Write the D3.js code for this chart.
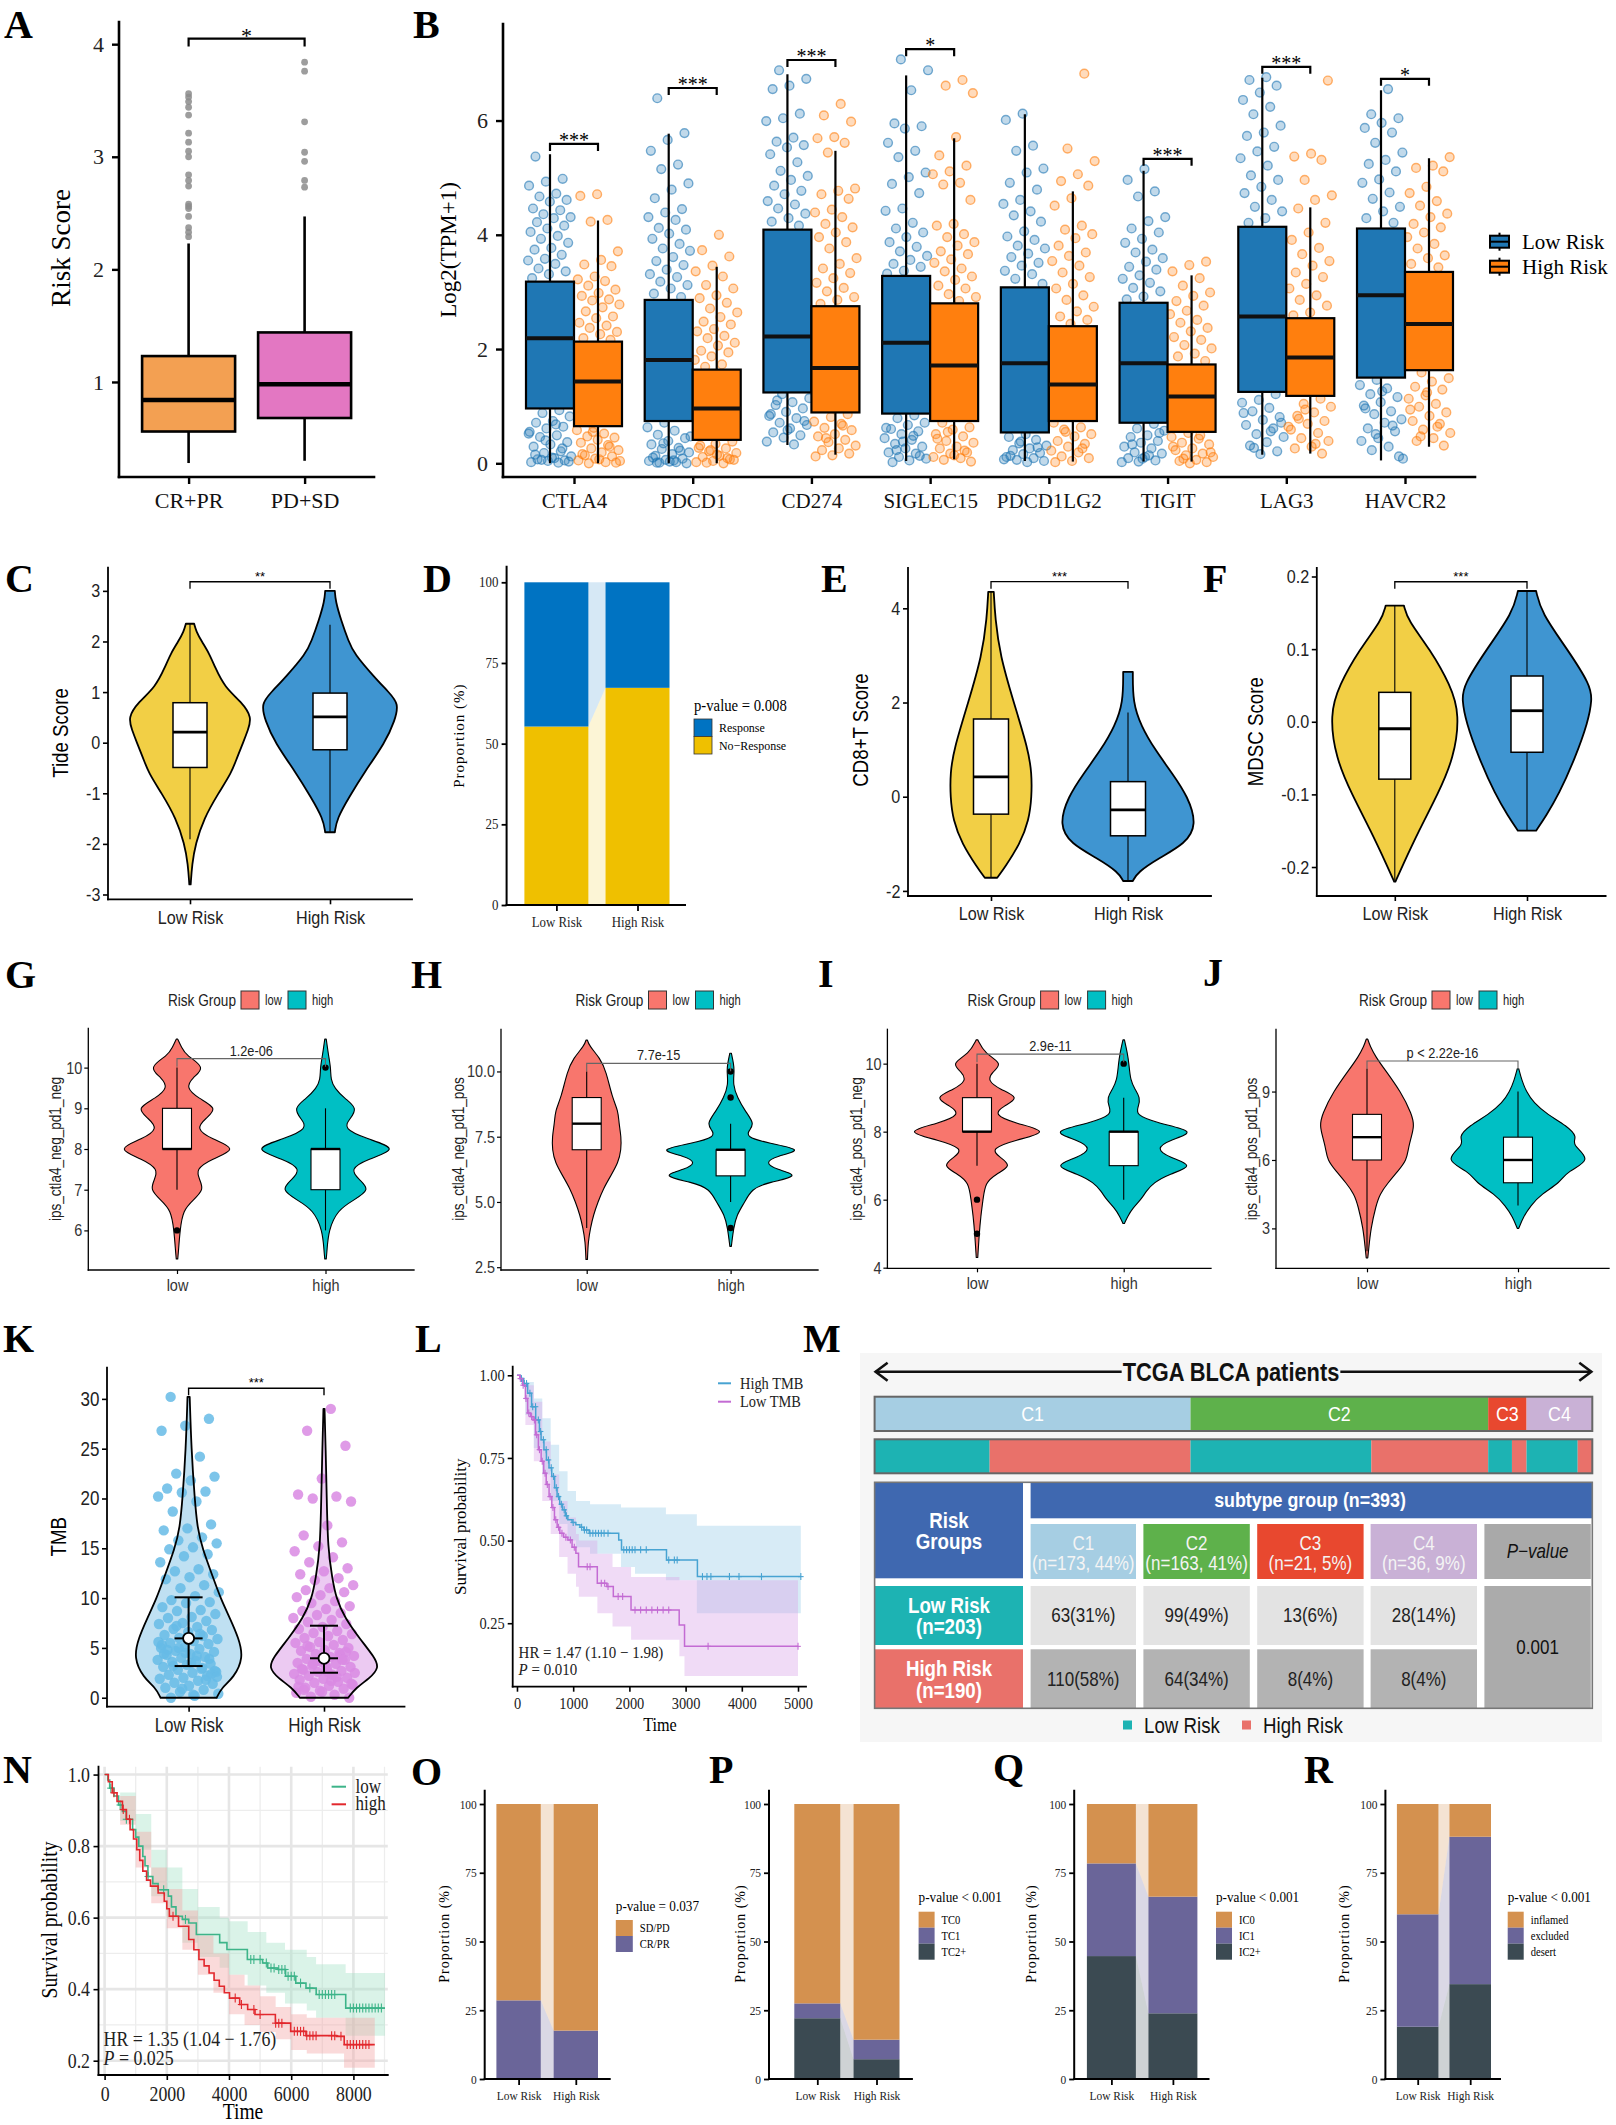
<!DOCTYPE html>
<html>
<head>
<meta charset="utf-8">
<script src="https://cdn.jsdelivr.net/npm/d3@7"></script>
<style>html,body{margin:0;padding:0;background:#fff;} svg{display:block;}</style>
</head>
<body>
<svg id="fig" width="1616" height="2125" xmlns="http://www.w3.org/2000/svg"></svg>
<script>
// ======================= DATA =======================
const riskGroups = ["Low Risk", "High Risk"];

// ---- A ----
const aGroups = ["CR+PR", "PD+SD"];
const aStats = [[0.28, 0.56, 0.84, 1.23, 2.23], [0.30, 0.68, 0.98, 1.44, 2.47]]; // min,q1,med,q3,max
const aOutliers = [[3.56,3.53,3.49,3.44,3.37,3.21,3.13,3.05,3.00,2.84,2.79,2.74,2.58,2.56,2.54,2.47,2.37,2.33,2.29],
                   [3.84,3.76,3.31,3.04,2.96,2.79,2.73]];
const aSig = "*";
const aTicks = [1, 2, 3, 4];

// ---- B ----
const bGenes = ["CTLA4","PDCD1","CD274","SIGLEC15","PDCD1LG2","TIGIT","LAG3","HAVCR2"];
const bLowStats = [[0,0.96,2.19,3.18,5.41],[0,0.74,1.81,2.86,5.77],[0.32,1.24,2.22,4.09,6.81],[0.04,0.87,2.11,3.28,6.79],
                   [0.04,0.54,1.75,3.08,6.11],[0.03,0.71,1.75,2.81,5.12],[0.15,1.25,2.57,4.14,6.75],[0.05,1.50,2.94,4.11,6.53]];
const bHighStats = [[0,0.65,1.43,2.13,4.25],[0,0.41,0.96,1.64,3.44],[0.15,0.89,1.67,2.75,5.47],[0.07,0.74,1.71,2.80,5.69],
                    [0.03,0.74,1.38,2.40,4.76],[0.03,0.55,1.17,1.73,3.29],[0.17,1.18,1.85,2.54,4.48],[0.29,1.63,2.44,3.35,5.34]];
const bSig = ["***","***","***","*","","***","***","*"];
const bTicks = [0, 2, 4, 6];
const bLowPts = [
 [5.37,4.98,4.93,4.86,4.72,4.67,4.61,4.58,4.46,4.43,4.36,4.31,4.29,4.22,4.16,4.11,4.05,3.98,3.93,3.86,3.77,3.74,3.65,3.58,3.55,3.49,3.41,3.36,3.31,3.24,0.93,0.88,0.82,0.74,0.71,0.64,0.61,0.55,0.49,0.46,0.37,0.33,0.29,0.21,0.18,0.12,0.09,0.07,0.05,0.04,0.02,0.01,0.06,0.03,0.1,0.15,0.26,0.4,0.52,0.68],
 [6.39,5.78,5.66,5.47,5.23,5.15,4.9,4.79,4.64,4.45,4.39,4.31,4.26,4.12,4.09,4.02,3.93,3.84,3.76,3.72,3.61,3.54,3.47,3.39,3.31,3.26,3.18,3.12,3.06,2.97,2.91,0.71,0.63,0.57,0.5,0.44,0.39,0.33,0.27,0.25,0.19,0.16,0.13,0.08,0.06,0.04,0.02,0.01,0.0,0.03,0.1,0.22,0.35,0.47,0.05,0.01],
 [6.88,6.73,6.61,6.55,6.12,6.04,5.99,5.7,5.63,5.57,5.53,5.41,5.27,5.12,5.03,4.96,4.86,4.77,4.71,4.59,4.53,4.46,4.37,4.29,4.23,4.16,1.21,1.14,1.07,1.02,0.96,0.9,0.83,0.79,0.71,0.67,0.61,0.54,0.49,0.45,0.38,0.33,1.1,0.74,0.58,0.86],
 [7.07,6.88,6.53,5.95,5.9,5.86,5.61,5.47,5.36,5.09,5.01,4.89,4.73,4.46,4.42,4.21,4.11,4.04,3.96,3.87,3.79,3.71,3.63,3.56,3.49,3.44,3.37,3.32,0.84,0.79,0.71,0.67,0.6,0.56,0.51,0.44,0.41,0.34,0.29,0.26,0.19,0.17,0.11,0.08,0.05,0.02,0.13,0.38,0.62,0.48,0.23],
 [6.12,6.01,5.56,5.47,5.16,5.09,4.91,4.79,4.61,4.54,4.41,4.34,4.23,4.06,3.97,3.91,3.81,3.76,3.67,3.61,3.51,3.46,3.37,3.31,3.23,3.14,0.51,0.46,0.41,0.35,0.31,0.26,0.23,0.18,0.16,0.11,0.09,0.06,0.04,0.02,0.13,0.28,0.38,0.07],
 [5.15,4.96,4.76,4.67,4.31,4.24,4.11,4.04,3.93,3.86,3.74,3.69,3.59,3.53,3.44,3.39,3.29,3.23,3.16,3.07,3.01,2.92,2.87,0.69,0.61,0.57,0.49,0.46,0.39,0.36,0.29,0.26,0.19,0.17,0.11,0.09,0.05,0.03,0.02,0.14,0.33,0.53,0.08],
 [6.76,6.71,6.61,6.49,6.36,6.24,6.11,5.91,5.79,5.73,5.54,5.46,5.34,5.21,5.04,4.96,4.84,4.73,4.61,4.49,4.41,4.29,4.21,1.21,1.11,1.06,0.97,0.91,0.81,0.76,0.67,0.61,0.51,0.46,0.37,0.31,0.21,0.16,0.88,0.56,0.27,0.71],
 [6.55,6.11,6.04,5.96,5.87,5.79,5.61,5.44,5.31,5.24,5.11,4.97,4.91,4.74,4.63,4.49,4.41,4.29,4.21,1.46,1.37,1.31,1.21,1.16,1.07,1.01,0.91,0.86,0.77,0.71,0.61,0.56,0.44,0.39,0.29,0.23,0.12,1.26,0.96,0.66,0.51,0.08]
];
const bHighPts = [
 [4.71,4.68,4.26,4.23,3.71,3.56,3.48,3.45,3.27,3.22,3.19,3.11,3.04,2.98,2.93,2.87,2.85,2.78,2.73,2.66,2.57,2.54,2.46,2.41,2.37,2.3,2.26,2.19,2.16,0.62,0.58,0.52,0.47,0.45,0.41,0.36,0.32,0.26,0.23,0.19,0.14,0.12,0.08,0.05,0.02,0.0,0.01,0.07,0.16,0.29,0.55,0.04],
 [4.0,3.73,3.62,3.46,3.36,3.27,3.12,3.06,2.94,2.89,2.81,2.71,2.64,2.56,2.48,2.43,2.35,2.31,2.23,2.19,2.11,2.06,1.97,1.94,1.87,1.81,1.73,1.69,0.38,0.34,0.27,0.26,0.21,0.18,0.13,0.11,0.07,0.04,0.02,0.0,0.01,0.06,0.15,0.31,0.09,0.23],
 [6.29,6.09,5.98,5.71,5.69,5.61,5.44,4.81,4.77,4.71,4.63,4.44,4.39,4.31,4.19,4.13,4.04,3.96,3.87,3.76,3.59,3.49,3.41,3.33,3.24,3.16,3.07,3.01,2.91,2.86,2.79,0.86,0.81,0.73,0.69,0.62,0.58,0.51,0.47,0.41,0.37,0.31,0.26,0.23,0.17,0.14,0.12,0.66,0.44],
 [6.71,6.61,6.48,5.71,5.39,5.21,5.11,5.06,4.91,4.88,4.61,4.19,4.16,4.01,3.96,3.87,3.81,3.71,3.66,3.57,3.51,3.41,3.36,3.27,3.21,3.11,3.06,2.96,2.91,2.84,0.71,0.63,0.59,0.51,0.47,0.39,0.36,0.29,0.26,0.19,0.17,0.11,0.09,0.06,0.03,0.14,0.43,0.22,0.55],
 [6.82,5.51,5.29,5.06,4.94,4.86,4.64,4.51,4.16,4.09,4.01,3.94,3.81,3.69,3.63,3.54,3.46,3.34,3.26,3.14,3.06,2.94,2.86,2.74,2.66,2.57,2.51,2.44,0.71,0.63,0.59,0.51,0.47,0.39,0.34,0.29,0.22,0.19,0.12,0.09,0.04,0.02,0.26,0.55],
 [3.53,3.47,3.36,3.24,3.11,2.99,2.93,2.84,2.76,2.67,2.61,2.51,2.46,2.37,2.31,2.21,2.16,2.07,2.01,1.92,1.87,1.79,0.53,0.46,0.43,0.36,0.33,0.26,0.23,0.17,0.14,0.11,0.06,0.04,0.02,0.0,0.29,0.49,0.08,0.19],
 [6.7,5.42,5.37,5.31,4.96,4.69,4.61,4.46,4.21,4.04,3.91,3.77,3.66,3.54,3.46,3.34,3.26,3.14,3.06,2.94,2.86,2.76,2.64,2.59,1.13,1.04,0.99,0.89,0.83,0.74,0.69,0.59,0.53,0.44,0.39,0.29,0.26,0.17,0.94,0.64,0.34,0.78],
 [5.36,5.21,5.17,5.11,4.84,4.73,4.59,4.51,4.37,4.31,4.19,4.13,4.04,3.96,3.84,3.76,3.64,3.59,3.49,3.43,1.59,1.49,1.43,1.34,1.29,1.19,1.13,1.04,0.99,0.89,0.83,0.74,0.69,0.59,0.53,0.44,0.39,0.31,1.24,0.94,0.64,0.47]
];

// ---- C / E / F (violins: [value, relative half-width]) ----
const cLowProfile = [[2.35,.06],[2.2,.09],[2.0,.17],[1.76,.28],[1.5,.36],[1.1,.5],[0.8,.75],[0.5,.9],[0.25,.84],[0,.77],[-0.3,.68],[-0.6,.6],[-1.0,.41],[-1.5,.2],[-2.0,.08],[-2.4,.03],[-2.8,.01]];
const cHighProfile = [[3.0,.07],[2.8,.08],[2.42,.16],[2.0,.27],[1.76,.35],[1.3,.64],[1.0,.85],[0.77,1.0],[0.44,.94],[0,.8],[-0.6,.49],[-1.07,.28],[-1.5,.1],[-1.77,.07]];
const cStats = [[-1.91,-0.49,0.21,0.79,2.35],[-1.76,-0.14,0.51,0.98,2.33]];
const cTicks = [-3,-2,-1,0,1,2,3];
const cSig = {label: "**", at: 3.18};
const eLowProfile = [[4.35,.04],[3.8,.06],[3,.13],[2,.33],[1,.54],[0.5,.59],[0,.59],[-0.5,.55],[-1,.42],[-1.5,.2],[-1.72,.09]];
const eHighProfile = [[2.65,.07],[2,.07],[1.5,.19],[1,.39],[0.5,.64],[0,.87],[-0.6,1.0],[-1,.83],[-1.3,.45],[-1.6,.14],[-1.79,.07]];
const eStats = [[-1.72,-0.37,0.42,1.65,4.35],[-1.79,-0.83,-0.28,0.32,1.79]];
const eTicks = [-2,0,2,4];
const eSig = {label: "***", at: 4.565};
const fLowProfile = [[0.16,.14],[0.14,.2],[0.1,.54],[0.05,.86],[0.01,1.0],[-0.05,.91],[-0.1,.66],[-0.15,.37],[-0.2,.11],[-0.22,.01]];
const fHighProfile = [[0.18,.14],[0.15,.22],[0.1,.62],[0.05,.98],[0.03,1.0],[0,.94],[-0.05,.74],[-0.1,.49],[-0.13,.29],[-0.15,.14]];
const fStats = [[-0.219,-0.079,-0.0096,0.0405,0.16],[-0.15,-0.042,0.0152,0.063,0.18]];
const fTicks = [-0.2,-0.1,0,0.1,0.2];
const fSig = {label: "***", at: 0.1928};

// ---- D, O, P, Q, R (percent, stacked bottom -> top) ----
const dLegend = ["Response", "No\u2212Response"];
const dLow = [55.3, 44.7];
const dHigh = [67.3, 32.7];
const dPval = "p-value = 0.008";
const oLegend = ["SD/PD", "CR/PR"];
const oLow = [28.6, 71.4];
const oHigh = [17.6, 82.4];
const oPval = "p-value = 0.037";
const pLegend = ["TC0", "TC1", "TC2+"];
const pLow = [22.1, 5.4, 72.5];
const pHigh = [7.2, 7.1, 85.7];
const qLegend = ["IC0", "IC1", "IC2+"];
const qLow = [44.7, 33.7, 21.6];
const qHigh = [23.9, 42.4, 33.7];
const rLegend = ["inflamed", "excluded", "desert"];
const rLow = [19.0, 40.9, 40.1];
const rHigh = [34.5, 53.6, 11.9];
const pqrPval = "p-value < 0.001";
const propTicks = [0, 25, 50, 75, 100];

// ---- G, H, I, J ----
const ipsGroups = ["low", "high"];
const gLowProfile = [[10.7,.01],[10.5,.06],[10.3,.12],[10.0,.39],[9.75,.2],[9.5,.12],[9.25,.28],[9.0,.55],[8.75,.38],[8.5,.25],[8.25,.45],[8.0,.83],[7.75,.45],[7.5,.25],[7.25,.3],[7.0,.36],[6.75,.22],[6.5,.08],[6.0,.04],[5.5,.02],[5.3,.01]];
const gHighProfile = [[10.7,.01],[10.3,.04],[10.0,.07],[9.7,.07],[9.5,.12],[9.25,.25],[9.0,.43],[8.75,.33],[8.5,.23],[8.25,.55],[8.0,1.0],[7.75,.55],[7.5,.32],[7.25,.45],[7.0,.6],[6.75,.38],[6.5,.16],[6.0,.04],[5.5,.02],[5.3,.01]];
const gStats = [[7,8,8,9,10],[6,7,8,8,9]];
const gOutliers = [[6],[10]];
const hLowProfile = [[11.2,.01],[11,.03],[10.5,.18],[10,.26],[9,.34],[8.5,.42],[8,.43],[7.5,.46],[7,.46],[6.5,.42],[6,.32],[5.5,.22],[5,.15],[4.5,.09],[4,.05],[3.5,.02],[2.8,.01]];
const hHighProfile = [[10.7,.01],[10.3,.04],[10,.05],[9.5,.03],[9,.09],[8.5,.19],[8,.32],[7.75,.25],[7.5,.2],[7.25,.5],[7,1.0],[6.75,.6],[6.5,.46],[6.25,.6],[6,.95],[5.75,.5],[5.5,.28],[5,.19],[4.5,.08],[4,.04],[3.3,.01]];
const hStats = [[4,7,8,9,10],[5,6,7,7,8]];
const hOutliers = [[],[10,9,4]];
const iLowProfile = [[10.7,.01],[10.3,.1],[10,.35],[9.75,.2],[9.5,.14],[9.25,.3],[9,.58],[8.75,.35],[8.5,.22],[8.25,.5],[8,1.0],[7.75,.5],[7.5,.18],[7.25,.3],[7,.47],[6.75,.25],[6.5,.11],[6,.08],[5.5,.05],[5,.03],[4.3,.01]];
const iHighProfile = [[10.7,.01],[10.3,.05],[10,.07],[9.5,.09],[9.25,.15],[9,.22],[8.75,.2],[8.5,.15],[8.25,.45],[8,1.0],[7.75,.6],[7.5,.43],[7.25,.6],[7,.96],[6.75,.6],[6.5,.4],[6.25,.3],[6,.23],[5.75,.12],[5.5,.05],[5.3,.01]];
const iStats = [[7,8,8,9,10],[6,7,8,8,9]];
const iOutliers = [[6,5],[10]];
const jLowProfile = [[11.3,.01],[11,.04],[10.5,.12],[10,.23],[9,.45],[8,.6],[7.5,.63],[7,.59],[6.5,.55],[6,.53],[5.5,.41],[5,.28],[4.5,.17],[4,.12],[3,.05],[2,.02],[1.7,.01]];
const jHighProfile = [[10,.01],[9.5,.05],[9,.11],[8.5,.21],[8,.39],[7.5,.65],[7,.8],[6.7,.7],[6,1.0],[5.5,.65],[5,.56],[4.5,.31],[4,.17],[3.5,.07],[3,.01]];
const jStats = [[2,6,7,8,10],[4,5,6,7,9]];
const jOutliers = [[],[]];
const ipsPvals = ["1.2e-06", "7.7e-15", "2.9e-11", "p < 2.22e-16"];
const ipsBracketAt = [10.22, 10.31, 10.28, 10.34];
const ipsYLabels = ["ips_ctla4_neg_pd1_neg", "ips_ctla4_neg_pd1_pos", "ips_ctla4_pos_pd1_neg", "ips_ctla4_pos_pd1_pos"];

// ---- K ----
const kLowProfile = [[30.2,.02],[25,.05],[20,.11],[17,.16],[15,.25],[12,.45],[10,.58],[8,.75],[6,.91],[4,1.0],[2,.82],[1,.6],[0,.51]];
const kHighProfile = [[29,.01],[25,.03],[20,.05],[15,.07],[12,.15],[10,.22],[8,.38],[6,.64],[4,.93],[3,1.0],[2,.84],[1,.58],[0,.44]];
const kStats = [[5.96,3.18,10.08],[3.96,2.51,7.23]]; // centre, lower, upper
const kTicks = [0,5,10,15,20,25,30];
const kLowPts = [30.2,28.0,27.3,26.8,24.2,22.5,22.2,21.8,21.0,20.7,20.6,20.2,19.7,18.7,17.4,17.0,16.8,16.1,15.8,15.5,15.1,14.9,14.4,14.2,13.6,12.9,12.7,12.4,12.1,11.9,11.3,11.0,10.6,10.2,9.8,9.6,9.5,9.1,8.8,8.7,8.4,8.1,8.0,7.7,7.5,7.4,7.1,6.9,6.8,6.6,6.3,6.2,6.0,5.9,5.7,5.5,5.4,5.1,5.0,4.9,4.7,4.6,4.4,4.3,4.1,4.0,3.8,3.7,3.6,3.4,3.3,3.1,2.9,2.8,2.6,2.5,2.3,2.2,2.0,1.9,1.7,1.5,1.4,1.2,1.0,0.8,0.6,0.4,0.2,0.0,3.9,4.5,5.3,6.4,7.2,2.7,3.5,4.8,1.8,0.9,5.6,4.2,3.2,2.4,6.1,4.4,3.0,5.0,2.1,0.3];
const kHighPts = [29.0,26.8,25.3,22.0,20.4,20.2,20.0,19.7,17.3,16.3,15.6,15.2,14.7,14.1,13.6,13.0,12.7,12.4,12.0,11.8,11.3,11.0,10.8,10.6,10.3,10.1,9.7,9.5,9.2,8.9,8.7,8.5,8.3,8.0,7.8,7.6,7.4,7.1,6.9,6.7,6.5,6.4,6.2,6.0,5.8,5.6,5.5,5.3,5.1,5.0,4.8,4.7,4.5,4.4,4.2,4.1,3.9,3.8,3.6,3.5,3.4,3.2,3.1,3.0,2.8,2.7,2.6,2.4,2.3,2.2,2.0,1.9,1.8,1.6,1.5,1.3,1.2,1.0,0.9,0.7,0.5,0.3,0.1,0.0,3.3,2.9,4.3,3.7,2.5,1.7,5.2,4.6,0.6,1.1,2.1,3.4,1.4,2.6,0.8,3.8];

// ---- L (Kaplan-Meier: [time, survival]; bands: [time, lower, upper]) ----
const lSeries = ["High TMB", "Low TMB"];
const lHighCurve = [[0,1],[60,0.99],[120,0.975],[190,0.946],[260,0.905],[333,0.865],[400,0.83],[429,0.805],[480,0.775],[524,0.744],[570,0.72],[619,0.694],[670,0.66],[714,0.633],[760,0.61],[810,0.593],[860,0.575],[905,0.563],[980,0.555],[1048,0.548],[1120,0.54],[1190,0.532],[1286,0.522],[1810,0.502],[1860,0.472],[2660,0.441],[3210,0.391],[5050,0.391]];
const lLowCurve = [[0,1],[50,0.99],[100,0.97],[150,0.93],[190,0.886],[240,0.875],[286,0.865],[330,0.82],[381,0.775],[430,0.74],[476,0.704],[520,0.67],[571,0.633],[620,0.6],[667,0.563],[715,0.54],[762,0.522],[830,0.51],[905,0.502],[980,0.48],[1048,0.462],[1095,0.421],[1429,0.371],[1600,0.361],[1714,0.331],[2029,0.29],[2886,0.245],[2981,0.18],[5000,0.18]];
const lHighBand = [[0,1,1],[150,0.88,0.98],[300,0.78,0.93],[450,0.7,0.87],[600,0.62,0.79],[750,0.55,0.71],[900,0.5,0.65],[1050,0.48,0.62],[1300,0.46,0.61],[1850,0.42,0.6],[2100,0.4,0.6],[2650,0.38,0.58],[3200,0.28,0.545],[5050,0.28,0.545]];
const lLowBand = [[0,1,1],[150,0.85,0.97],[300,0.74,0.92],[450,0.62,0.8],[600,0.52,0.7],[750,0.45,0.62],[900,0.4,0.57],[1050,0.36,0.52],[1100,0.33,0.5],[1430,0.28,0.46],[1700,0.24,0.42],[2030,0.2,0.39],[2890,0.15,0.38],[2980,0.09,0.38],[5000,0.09,0.38]];
const lHighCensor = [80,130,170,230,280,330,380,420,470,520,560,610,650,700,740,790,840,880,1000,1150,1200,1240,1300,1350,1400,1450,1500,1550,1620,1900,1950,2000,2050,2100,2200,2300,2700,2800,2850,3300,3380,3450,3780,3950,4350,5050];
const lLowCensor = [60,110,160,210,260,310,350,400,450,500,540,590,640,690,740,800,870,950,1020,1250,1300,1500,1560,1620,1800,1880,2100,2200,2300,2400,2500,2600,2700,3400,5000];
const lHR = "HR = 1.47 (1.10 \u2212 1.98)";
const lP = "0.010";
const lYTicks = [0.25, 0.5, 0.75, 1.0];
const lXTicks = [0,1000,2000,3000,4000,5000];

// ---- M ----
const mTitle = "TCGA BLCA patients";
const mSubtypes = ["C1","C2","C3","C4"];
const mSubtypeN = [173, 163, 21, 36];
const mSubtypePct = [44, 41, 5, 9];
const mLowN = [63, 99, 13, 28];
const mLowPct = [31, 49, 6, 14];
const mHighN = [110, 64, 8, 8];
const mHighPct = [58, 34, 4, 4];
const mRiskTotals = [203, 190];
const mPvalue = "0.001";

// ---- N ----
const nSeries = ["low", "high"];
const nLowCurve = [[0,1],[100,0.985],[164,0.962],[300,0.94],[450,0.915],[574,0.897],[700,0.875],[901,0.846],[1000,0.825],[1100,0.8],[1229,0.771],[1300,0.745],[1393,0.715],[1550,0.695],[1721,0.678],[2049,0.66],[2150,0.63],[2295,0.604],[2500,0.595],[2705,0.585],[2950,0.553],[3700,0.53],[3934,0.511],[4590,0.483],[5081,0.473],[5245,0.459],[5573,0.455],[5819,0.436],[6147,0.417],[6475,0.403],[6803,0.385],[7753,0.347],[9015,0.347]];
const nHighCurve = [[0,1],[120,0.98],[246,0.949],[400,0.925],[574,0.902],[700,0.875],[820,0.846],[930,0.82],[1033,0.79],[1130,0.76],[1229,0.73],[1350,0.705],[1475,0.688],[1721,0.669],[1918,0.646],[2000,0.625],[2082,0.604],[2377,0.576],[2705,0.539],[2870,0.51],[3033,0.483],[3200,0.465],[3360,0.445],[3520,0.425],[3688,0.408],[3850,0.39],[4016,0.375],[4344,0.357],[4600,0.343],[4836,0.329],[5491,0.305],[5983,0.282],[6475,0.27],[7458,0.268],[7704,0.245],[8687,0.245]];
const nLowBand = [[0,1,1],[500,0.87,0.95],[1000,0.79,0.89],[1500,0.66,0.79],[2000,0.6,0.74],[2500,0.53,0.68],[3000,0.49,0.63],[3700,0.46,0.6],[4000,0.44,0.59],[4600,0.41,0.56],[5200,0.39,0.53],[5800,0.36,0.51],[6500,0.34,0.49],[6800,0.32,0.47],[7750,0.27,0.445],[9015,0.27,0.445]];
const nHighBand = [[0,1,1],[500,0.86,0.94],[1000,0.74,0.84],[1500,0.64,0.74],[2000,0.57,0.68],[2500,0.51,0.62],[3000,0.44,0.55],[3500,0.39,0.5],[4000,0.33,0.44],[4500,0.3,0.41],[5000,0.28,0.38],[5500,0.26,0.35],[6000,0.23,0.33],[6500,0.22,0.32],[7700,0.18,0.32],[8687,0.18,0.32]];
const nLowCensor = [200,500,700,1400,1900,2600,4700,4800,5000,5200,5350,5450,5600,5700,5800,5900,6000,6100,6300,6600,6900,7000,7100,7200,7300,7400,7900,8000,8100,8200,8300,8400,8500,8600,8700,8800,8900];
const nHighCensor = [300,600,800,2200,4200,4400,4800,5000,5500,5600,5700,6100,6200,6300,6400,6500,6600,6700,6800,7300,7400,7600,7800,7900,8000,8100,8200,8300,8400,8500];
const nHR = "HR = 1.35 (1.04 \u2212 1.76)";
const nP = "0.025";
const nYTicks = [0.2,0.4,0.6,0.8,1.0];
const nXTicks = [0,2000,4000,6000,8000];

// ======================= DRAWING =======================
const SERIF = "'Liberation Serif','Times New Roman',Times,serif";
const SANS = "'Liberation Sans',Arial,sans-serif";
const NX = 0.85; // horizontal condensing of narrow type
const svg = d3.select('#fig');
svg.append('rect').attr('width', 1616).attr('height', 2125).attr('fill', '#fff');

function T(g, x, y, s, o = {}) {
  const t = g.append('text').attr('x', x).attr('y', y).text(s)
    .attr('font-family', o.ff || SERIF).attr('font-size', o.fs || 16)
    .attr('fill', o.fill || '#000').attr('text-anchor', o.a || 'start');
  if (o.fw) t.attr('font-weight', o.fw);
  if (o.it) t.attr('font-style', 'italic');
  if (o.dy) t.attr('dy', o.dy);
  if (o.ls) t.attr('letter-spacing', o.ls);
  if (o.rot || o.sx) t.attr('transform', `translate(${x},${y}) rotate(${o.rot || 0}) scale(${o.sx || 1},1) translate(${-x},${-y})`);
  return t;
}
function L(g, x1, y1, x2, y2, col = '#000', w = 1, cap = 'butt') {
  return g.append('line').attr('x1', x1).attr('y1', y1).attr('x2', x2).attr('y2', y2)
    .attr('stroke', col).attr('stroke-width', w).attr('stroke-linecap', cap);
}
function frame(g, xl, xr, yt, yb, w) {
  L(g, xl, yt, xl, yb, '#000', w, 'square');
  L(g, xl, yb, xr, yb, '#000', w, 'square');
}
function styleAxis(a, o) {
  a.select('.domain').remove();
  a.selectAll('.tick line').attr('stroke', '#000').attr('stroke-width', o.lw || 1.5);
  const tx = a.selectAll('.tick text').attr('font-family', o.ff).attr('font-size', o.fs).attr('fill', o.tc || '#222');
  if (o.sx) tx.attr('transform', `scale(${o.sx},1)`);
}
function axisL(g, scale, x, o) {
  const a = g.append('g').attr('transform', `translate(${x},0)`)
    .call(d3.axisLeft(scale).tickValues(o.ticks).tickSize(o.ts || 5).tickPadding(o.tp || 4).tickFormat(o.fmt || (d => String(d))));
  styleAxis(a, o);
  return a;
}
function axisB(g, scale, y, o) {
  const ax = d3.axisBottom(scale).tickSize(o.ts || 5).tickPadding(o.tp || 4).tickFormat(o.fmt || (d => String(d)));
  if (o.ticks) ax.tickValues(o.ticks);
  const a = g.append('g').attr('transform', `translate(0,${y})`).call(ax);
  styleAxis(a, o);
  return a;
}
function spread(i, s) { return ((i * 0.6180339887 + (s || 0)) % 1) - 0.5; }
function panelLabel(s, x, y) { T(svg, x, y, s, { ff: SERIF, fs: 40, fw: 'bold' }); }
function violinPath(g, prof, cx, y, wmax, fill, sw, fo) {
  const a = d3.area().curve(d3.curveBasis).y(d => y(d[0])).x0(d => cx - d[1] * wmax).x1(d => cx + d[1] * wmax);
  return g.append('path').attr('d', a(prof)).attr('fill', fill).attr('fill-opacity', fo == null ? 1 : fo)
    .attr('stroke', sw ? '#000' : 'none').attr('stroke-width', sw || 0).attr('stroke-linejoin', 'round');
}
function wbox(g, cx, y, s, bw, o) {
  L(g, cx, y(s[0]), cx, y(s[1]), '#000', o.ww);
  L(g, cx, y(s[3]), cx, y(s[4]), '#000', o.ww);
  g.append('rect').attr('x', cx - bw / 2).attr('y', y(s[3])).attr('width', bw).attr('height', y(s[1]) - y(s[3]))
    .attr('fill', o.fill || '#fff').attr('stroke', '#000').attr('stroke-width', o.bw);
  L(g, cx - bw / 2, y(s[2]), cx + bw / 2, y(s[2]), '#000', o.mw);
}

// ---------- Panel labels ----------
[["A",4,38],["B",413,38],["C",5,592],["D",423,592],["E",821,592],["F",1203,592],
 ["G",5,988],["H",411,988],["I",818,987],["J",1203,986],["K",3,1352],["L",415,1352],["M",803,1352],
 ["N",3,1783],["O",411,1785],["P",709,1783],["Q",993,1781],["R",1304,1783]].forEach(d => panelLabel(d[0], d[1], d[2]));

// ---------- Panel A ----------
{
  const g = svg.append('g');
  const y = d3.scaleLinear().domain([0.156, 4.197]).range([477, 22]);
  const x = d3.scalePoint().domain(aGroups).range([188.6, 304.6]);
  const cols = ['#F3A052', '#E377C2'];
  const bw = 93;
  aGroups.forEach((k, i) => {
    const s = aStats[i], cx = x(k);
    L(g, cx, y(s[0]), cx, y(s[1]), '#000', 2.6);
    L(g, cx, y(s[3]), cx, y(s[4]), '#000', 2.6);
    g.append('rect').attr('x', cx - bw / 2).attr('y', y(s[3])).attr('width', bw).attr('height', y(s[1]) - y(s[3]))
      .attr('fill', cols[i]).attr('stroke', '#000').attr('stroke-width', 2.6);
    L(g, cx - bw / 2, y(s[2]), cx + bw / 2, y(s[2]), '#000', 4.5);
    aOutliers[i].forEach(v => g.append('circle').attr('cx', cx).attr('cy', y(v)).attr('r', 3.4).attr('fill', '#8c8c8c').attr('fill-opacity', 0.85));
  });
  frame(g, 119, 374, 22, 477, 2.6);
  axisL(g, y, 119, { ticks: aTicks, ts: 7, tp: 8, lw: 2.4, ff: SERIF, fs: 22, tc: '#222' });
  axisB(g, x, 477, { ts: 7, tp: 8, lw: 2.4, ff: SERIF, fs: 22, tc: '#111' });
  const by = y(4.05);
  g.append('path').attr('d', `M${x(aGroups[0])},${by + 8}V${by}H${x(aGroups[1])}V${by + 8}`).attr('fill', 'none').attr('stroke', '#000').attr('stroke-width', 2.2);
  T(g, (x(aGroups[0]) + x(aGroups[1])) / 2, by + 4, aSig, { ff: SERIF, fs: 22, a: 'middle' });
  T(g, 61, 248, "Risk Score", { ff: SERIF, fs: 27, a: 'middle', rot: -90, dy: '0.35em' });
}

// ---------- Panel B ----------
{
  const g = svg.append('g');
  const y = d3.scaleLinear().domain([-0.24, 7.69]).range([477, 24]);
  const x = d3.scalePoint().domain(bGenes).range([574, 1405]);
  const cols = ['#1F77B4', '#FF7F0E'];
  const bw = 48, jw = 22;
  [bLowPts, bHighPts].forEach((P, gi) => {
    bGenes.forEach((gene, i) => {
      const cx = x(gene) + (gi === 0 ? -bw / 2 : bw / 2);
      P[i].forEach((v, j) => {
        g.append('circle').attr('cx', cx + spread(j, 0.17 + gi * 0.31 + i * 0.07) * 2 * jw).attr('cy', y(v)).attr('r', 4.4)
          .attr('fill', cols[gi]).attr('fill-opacity', 0.28).attr('stroke', cols[gi]).attr('stroke-opacity', 0.6).attr('stroke-width', 1.4);
      });
    });
  });
  [bLowStats, bHighStats].forEach((S, gi) => {
    bGenes.forEach((gene, i) => {
      const s = S[i], cx = x(gene) + (gi === 0 ? -bw / 2 : bw / 2);
      L(g, cx, y(s[0]), cx, y(s[1]), '#000', 2.2);
      L(g, cx, y(s[3]), cx, y(s[4]), '#000', 2.2);
      g.append('rect').attr('x', cx - bw / 2).attr('y', y(s[3])).attr('width', bw).attr('height', y(s[1]) - y(s[3]))
        .attr('fill', cols[gi]).attr('stroke', '#000').attr('stroke-width', 2.2);
      L(g, cx - bw / 2, y(s[2]), cx + bw / 2, y(s[2]), '#111', 4);
    });
  });
  bGenes.forEach((gene, i) => {
    if (!bSig[i]) return;
    const top = d3.max([...bLowPts[i], ...bHighPts[i], bLowStats[i][4], bHighStats[i][4]]) + 0.18;
    const x1 = x(gene) - bw / 2, x2 = x(gene) + bw / 2, by = y(top);
    g.append('path').attr('d', `M${x1},${by + 7}V${by}H${x2}V${by + 7}`).attr('fill', 'none').attr('stroke', '#000').attr('stroke-width', 2.2);
    T(g, x(gene), by + 3, bSig[i], { ff: SERIF, fs: 20, a: 'middle' });
  });
  frame(g, 503, 1475, 24, 477, 2.6);
  axisL(g, y, 503, { ticks: bTicks, ts: 7, tp: 8, lw: 2.4, ff: SERIF, fs: 22 });
  axisB(g, x, 477, { ts: 7, tp: 9, lw: 2.4, ff: SERIF, fs: 21, tc: '#111' });
  T(g, 448, 250, "Log2(TPM+1)", { ff: SERIF, fs: 23, a: 'middle', rot: -90, dy: '0.35em' });
  ["Low Risk", "High Risk"].forEach((lab, i) => {
    const cy = 241.7 + i * 25;
    L(g, 1499.5, cy - 9, 1499.5, cy + 9, '#000', 2);
    g.append('rect').attr('x', 1490).attr('y', cy - 6).attr('width', 19).attr('height', 12).attr('fill', cols[i]).attr('stroke', '#000').attr('stroke-width', 2);
    L(g, 1490, cy, 1509, cy, '#000', 2);
    T(g, 1522, cy, lab, { ff: SERIF, fs: 21, dy: '0.35em' });
  });
}

// ---------- Panels C, E, F ----------
function scorePanel(c) {
  const g = svg.append('g');
  const y = d3.scaleLinear().domain(c.dom).range([c.yb, c.yt]);
  const x = d3.scalePoint().domain(riskGroups).range(c.centers);
  const cols = ['#F2CF45', '#3F95D1'];
  violinPath(g, c.prof[0], x(riskGroups[0]), y, c.wmax, cols[0], 1.8);
  violinPath(g, c.prof[1], x(riskGroups[1]), y, c.wmax, cols[1], 1.8);
  c.stats.forEach((s, i) => wbox(g, x(riskGroups[i]), y, s, c.bw, { ww: 1.1, bw: 1.5, mw: 2.8 }));
  frame(g, c.ax, c.xEnd, c.yt, c.yb, 1.8);
  axisL(g, y, c.ax, { ticks: c.ticks, fmt: c.fmt, ts: 5, tp: 4, lw: 1.6, ff: SANS, fs: 19, tc: '#222', sx: NX });
  axisB(g, x, c.yb, { ts: 5, tp: 6, lw: 1.6, ff: SANS, fs: 19, tc: '#222', sx: NX });
  const by = y(c.sig.at);
  g.append('path').attr('d', `M${x(riskGroups[0])},${by + 7}V${by}H${x(riskGroups[1])}V${by + 7}`).attr('fill', 'none').attr('stroke', '#000').attr('stroke-width', 1.3);
  T(g, (c.centers[0] + c.centers[1]) / 2, by - 1, c.sig.label, { ff: SANS, fs: 13, a: 'middle' });
  T(g, c.ylx, c.yly, c.ylab, { ff: SANS, fs: 22, a: 'middle', rot: -90, dy: '0.35em', sx: NX });
}
scorePanel({ dom: [-3.095, 3.458], yb: 899.3, yt: 567.7, centers: [190, 330], prof: [cLowProfile, cHighProfile], wmax: 69, stats: cStats, bw: 34,
  ax: 108, xEnd: 412, ticks: cTicks, fmt: d => String(d), sig: cSig, ylab: "Tide Score", ylx: 60, yly: 733 });
scorePanel({ dom: [-2.108, 4.856], yb: 896, yt: 568, centers: [991, 1128], prof: [eLowProfile, eHighProfile], wmax: 69, stats: eStats, bw: 35,
  ax: 908, xEnd: 1211, ticks: eTicks, fmt: d => String(d), sig: eSig, ylab: "CD8+T Score", ylx: 860, yly: 730 });
scorePanel({ dom: [-0.2399, 0.2117], yb: 896, yt: 568, centers: [1394.8, 1527], prof: [fLowProfile, fHighProfile], wmax: 65, stats: fStats, bw: 32,
  ax: 1316.8, xEnd: 1605.6, ticks: fTicks, fmt: d => d.toFixed(1), sig: fSig, ylab: "MDSC Score", ylx: 1255, yly: 731.7 });

// ---------- Proportion panels D, O, P, Q, R ----------
function propPanel(c) {
  const g = svg.append('g');
  const y = d3.scaleLinear().domain([0, 100]).range([c.y0, c.y100]);
  const x = d3.scalePoint().domain(riskGroups).range(c.centers);
  const stacks = [c.low, c.high].map(arr => { let cum = 0; return arr.map(v => { const s = [cum, cum + v]; cum += v; return s; }); });
  const xr0 = x(riskGroups[0]) + c.bw / 2, xl1 = x(riskGroups[1]) - c.bw / 2;
  stacks[0].forEach((s, j) => {
    const h = stacks[1][j];
    g.append('path').attr('d', `M${xr0},${y(s[1])}L${xl1},${y(h[1])}L${xl1},${y(h[0])}L${xr0},${y(s[0])}Z`)
      .attr('fill', c.colors[j]).attr('fill-opacity', c.bandOp);
  });
  stacks.forEach((st, i) => st.forEach((s, j) => {
    g.append('rect').attr('x', x(riskGroups[i]) - c.bw / 2).attr('y', y(s[1])).attr('width', c.bw).attr('height', y(s[0]) - y(s[1]))
      .attr('fill', c.colors[j]).attr('stroke', c.stroke || 'none').attr('stroke-width', c.stroke ? 0.8 : 0);
  }));
  frame(g, c.ax, c.xEnd, c.yTop, c.y0, 2);
  axisL(g, y, c.ax, { ticks: propTicks, ts: 5, tp: 4, lw: 1.8, ff: SERIF, fs: c.fs, tc: '#222', sx: c.sx });
  axisB(g, x, c.y0, { ts: 6, tp: 6, lw: 1.8, ff: SERIF, fs: c.fs, tc: '#222', sx: c.sx });
  T(g, c.ylx, (c.y0 + c.y100) / 2 - 8, "Proportion (%)", { ff: SERIF, fs: c.fs + 1, a: 'middle', rot: -90, dy: '0.35em', ls: 1 });
  T(g, c.lx, c.ly, c.pval, { ff: SERIF, fs: c.fs + 2, sx: c.sx });
  const n = c.legend.length;
  c.legend.forEach((lab, k) => {
    const col = c.colors[n - 1 - k];
    const yy = c.sqTop + k * c.sqH;
    g.append('rect').attr('x', c.lx).attr('y', yy).attr('width', c.sqW).attr('height', c.sqH).attr('fill', col)
      .attr('stroke', c.stroke ? '#333' : 'none').attr('stroke-width', c.stroke ? 0.8 : 0);
    T(g, c.lx + c.sqW + 7, yy + c.sqH / 2, lab, { ff: SERIF, fs: c.fs - 1, dy: '0.35em', sx: c.sx });
  });
}
const pqrColors = ['#3B4A52', '#6A6599', '#D4914F'];
propPanel({ low: dLow, high: dHigh, colors: ['#EFC000', '#0073C2'], legend: dLegend, pval: dPval, bandOp: 0.16, stroke: true,
  y0: 905, y100: 582.3, yTop: 566.7, ax: 506.6, xEnd: 685, centers: [556.4, 637.5], bw: 64, fs: 14, ylx: 459, sx: 0.92,
  lx: 694, ly: 711, sqTop: 719, sqH: 17.5, sqW: 18 });
propPanel({ low: oLow, high: oHigh, colors: ['#6A6599', '#D4914F'], legend: oLegend, pval: oPval, bandOp: 0.25,
  y0: 2079, y100: 1804, yTop: 1790.7, ax: 484.7, xEnd: 609.7, centers: [518.6, 575.8], bw: 44.4, fs: 13, ylx: 444, sx: 0.88,
  lx: 615.8, ly: 1911, sqTop: 1920, sqH: 16, sqW: 17 });
propPanel({ low: pLow, high: pHigh, colors: pqrColors, legend: pLegend, pval: pqrPval, bandOp: 0.25,
  y0: 2079, y100: 1804, yTop: 1790.7, ax: 769, xEnd: 911.9, centers: [817.3, 876.5], bw: 46, fs: 13, ylx: 740, sx: 0.88,
  lx: 918.6, ly: 1902, sqTop: 1911.7, sqH: 16, sqW: 16 });
propPanel({ low: qLow, high: qHigh, colors: pqrColors, legend: qLegend, pval: pqrPval, bandOp: 0.25,
  y0: 2079, y100: 1804, yTop: 1790.7, ax: 1074.2, xEnd: 1208.5, centers: [1111.4, 1172.9], bw: 49, fs: 13, ylx: 1031.6, sx: 0.88,
  lx: 1216, ly: 1902, sqTop: 1911.7, sqH: 16, sqW: 16 });
propPanel({ low: rLow, high: rHigh, colors: pqrColors, legend: rLegend, pval: pqrPval, bandOp: 0.25,
  y0: 2079, y100: 1804, yTop: 1790.7, ax: 1385.4, xEnd: 1500, centers: [1417.7, 1470.2], bw: 41.6, fs: 13, ylx: 1343.8, sx: 0.88,
  lx: 1507.7, ly: 1902, sqTop: 1911.7, sqH: 16, sqW: 16 });

// ---------- Panels G, H, I, J ----------
function ipsPanel(c, idx) {
  const g = svg.append('g');
  const y = d3.scaleLinear().domain(c.dom).range([c.yb, c.yt]);
  const x = d3.scalePoint().domain(ipsGroups).range(c.centers);
  const cols = ['#F8766D', '#00BFC4'];
  violinPath(g, c.prof[0], x('low'), y, 75, cols[0], 1.1);
  violinPath(g, c.prof[1], x('high'), y, 75, cols[1], 1.1);
  c.stats.forEach((s, i) => wbox(g, x(ipsGroups[i]), y, s, 29, { ww: 1.1, bw: 1.1, mw: 2.4 }));
  c.outl.forEach((arr, i) => arr.forEach(v => g.append('circle').attr('cx', x(ipsGroups[i])).attr('cy', y(v)).attr('r', 3.2).attr('fill', '#000')));
  frame(g, c.ax, c.xEnd, c.yt, c.yb, 1.3);
  axisL(g, y, c.ax, { ticks: c.ticks, fmt: c.fmt, ts: 4, tp: 3, lw: 1.2, ff: SANS, fs: 17, tc: '#333', sx: NX });
  axisB(g, x, c.yb, { ts: 4, tp: 5, lw: 1.2, ff: SANS, fs: 17, tc: '#333', sx: NX });
  const by = y(ipsBracketAt[idx]);
  g.append('path').attr('d', `M${x('low')},${by + 8}V${by}H${x('high')}V${by + 8}`).attr('fill', 'none').attr('stroke', '#666').attr('stroke-width', 1.1);
  T(g, (c.centers[0] + c.centers[1]) / 2, by - 3, ipsPvals[idx], { ff: SANS, fs: 15, a: 'middle', fill: '#222', sx: NX });
  T(g, c.ylx, 1149, ipsYLabels[idx], { ff: SANS, fs: 16, a: 'middle', rot: -90, dy: '0.35em', fill: '#222', sx: NX });
  const lx = c.legX, ly = 1000;
  T(g, lx, ly, "Risk Group", { ff: SANS, fs: 17, dy: '0.35em', fill: '#222', sx: 0.8 });
  ipsGroups.forEach((k, i) => {
    const sx = lx + 73 + i * 47;
    g.append('rect').attr('x', sx).attr('y', ly - 9).attr('width', 18).attr('height', 18).attr('fill', cols[i]).attr('stroke', '#333').attr('stroke-width', 1);
    T(g, sx + 24, ly, k, { ff: SANS, fs: 14, dy: '0.35em', fill: '#222', sx: 0.8 });
  });
}
const intFmt = d => String(d);
ipsPanel({ dom: [5.027, 10.966], yb: 1270, yt: 1028.3, centers: [177, 325.5], prof: [gLowProfile, gHighProfile], stats: gStats, outl: gOutliers,
  ax: 88.3, xEnd: 414, ticks: [6,7,8,9,10], fmt: intFmt, ylx: 55, legX: 168 }, 0);
ipsPanel({ dom: [2.393, 11.615], yb: 1270, yt: 1029.3, centers: [586.7, 730.6], prof: [hLowProfile, hHighProfile], stats: hStats, outl: hOutliers,
  ax: 501, xEnd: 818, ticks: [2.5,5,7.5,10], fmt: d3.format('.1f'), ylx: 458, legX: 575.5 }, 1);
ipsPanel({ dom: [3.982, 11.01], yb: 1268.3, yt: 1029.3, centers: [977, 1123.7], prof: [iLowProfile, iHighProfile], stats: iStats, outl: iOutliers,
  ax: 887.4, xEnd: 1211, ticks: [4,6,8,10], fmt: intFmt, ylx: 856, legX: 967.6 }, 2);
ipsPanel({ dom: [1.25, 11.73], yb: 1268.3, yt: 1029.3, centers: [1367, 1518], prof: [jLowProfile, jHighProfile], stats: jStats, outl: jOutliers,
  ax: 1276, xEnd: 1609, ticks: [3,6,9], fmt: intFmt, ylx: 1251, legX: 1359 }, 3);

// ---------- Panel K ----------
{
  const g = svg.append('g');
  const y = d3.scaleLinear().domain([-0.9, 33.13]).range([1706.7, 1367.7]);
  const x = d3.scalePoint().domain(riskGroups).range([188.6, 324]);
  const pc = ['#66BBE6', '#D98AE3'], vc = ['#A9D6EE', '#E6B8EE'];
  violinPath(g, kLowProfile, x(riskGroups[0]), y, 55, vc[0], 0, 0.75);
  violinPath(g, kHighProfile, x(riskGroups[1]), y, 55, vc[1], 0, 0.75);
  [kLowPts, kHighPts].forEach((P, gi) => {
    const cx = x(riskGroups[gi]);
    P.forEach((v, j) => g.append('circle').attr('cx', cx + spread(j, 0.21 + gi * 0.4) * 2 * 31).attr('cy', y(v)).attr('r', 5.2)
      .attr('fill', pc[gi]).attr('fill-opacity', 0.85));
  });
  violinPath(g, kLowProfile, x(riskGroups[0]), y, 55, 'none', 1.8);
  violinPath(g, kHighProfile, x(riskGroups[1]), y, 55, 'none', 1.8);
  kStats.forEach((s, i) => {
    const cx = x(riskGroups[i]);
    L(g, cx, y(s[1]), cx, y(s[2]), '#000', 2);
    L(g, cx - 14, y(s[1]), cx + 14, y(s[1]), '#000', 2);
    L(g, cx - 14, y(s[2]), cx + 14, y(s[2]), '#000', 2);
    L(g, cx - 14, y(s[0]), cx + 14, y(s[0]), '#000', 2);
    g.append('circle').attr('cx', cx).attr('cy', y(s[0])).attr('r', 5.5).attr('fill', '#fff').attr('stroke', '#000').attr('stroke-width', 1.8);
  });
  frame(g, 107, 404.5, 1367.7, 1706.7, 1.8);
  axisL(g, y, 107, { ticks: kTicks, ts: 5, tp: 4, lw: 1.6, ff: SANS, fs: 20, tc: '#222', sx: NX });
  axisB(g, x, 1706.7, { ts: 5, tp: 6, lw: 1.6, ff: SANS, fs: 20, tc: '#222', sx: NX });
  const by = 1388.3;
  g.append('path').attr('d', `M${x(riskGroups[0])},${by + 7}V${by}H${x(riskGroups[1])}V${by + 7}`).attr('fill', 'none').attr('stroke', '#000').attr('stroke-width', 1.4);
  T(g, (188.6 + 324) / 2, by - 1, "***", { ff: SANS, fs: 13, a: 'middle' });
  T(g, 58, 1536.7, "TMB", { ff: SANS, fs: 22, a: 'middle', rot: -90, dy: '0.35em', sx: NX });
}

// ---------- KM helper ----------
function stepAt(curve, t) { let v = curve[0][1]; for (const p of curve) { if (p[0] <= t) v = p[1]; else break; } return v; }
function drawKM(g, x, y, series) {
  series.forEach(s => {
    const ar = d3.area().curve(d3.curveStepAfter).x(d => x(d[0])).y0(d => y(d[1])).y1(d => y(d[2]));
    g.append('path').attr('d', ar(s.band)).attr('fill', s.bandCol).attr('fill-opacity', s.bandOp);
  });
  series.forEach(s => {
    const ln = d3.line().curve(d3.curveStepAfter).x(d => x(d[0])).y(d => y(d[1]));
    g.append('path').attr('d', ln(s.curve)).attr('fill', 'none').attr('stroke', s.col).attr('stroke-width', s.lw);
    s.censor.forEach(t => {
      const cx = x(t), cy = y(stepAt(s.curve, t));
      L(g, cx, cy - s.cs, cx, cy + s.cs, s.col, s.cw);
      L(g, cx - s.cs * 0.8, cy, cx + s.cs * 0.8, cy, s.col, s.cw);
    });
  });
}

// ---------- Panel L ----------
{
  const g = svg.append('g');
  const y = d3.scaleLinear().domain([0.058, 1.026]).range([1686.7, 1366.7]);
  const x = d3.scaleLinear().domain([-76, 5142]).range([512.7, 806]);
  drawKM(g, x, y, [
    { curve: lHighCurve, band: lHighBand, censor: lHighCensor, col: '#47A3D2', bandCol: '#9ACDE9', bandOp: 0.4, lw: 1.5, cs: 3.5, cw: 1.1 },
    { curve: lLowCurve, band: lLowBand, censor: lLowCensor, col: '#C36BD3', bandCol: '#D9A6E8', bandOp: 0.4, lw: 1.5, cs: 3.5, cw: 1.1 }
  ]);
  frame(g, 512.7, 806, 1366.7, 1686.7, 1.8);
  axisL(g, y, 512.7, { ticks: lYTicks, fmt: d3.format('.2f'), ts: 5, tp: 4, lw: 1.6, ff: SERIF, fs: 16, tc: '#222', sx: 0.9 });
  axisB(g, x, 1686.7, { ticks: lXTicks, ts: 5, tp: 6, lw: 1.6, ff: SERIF, fs: 16, tc: '#222', sx: 0.9 });
  T(g, 660, 1731, "Time", { ff: SERIF, fs: 18, a: 'middle', sx: 0.9 });
  T(g, 459.6, 1526.7, "Survival probability", { ff: SERIF, fs: 17, a: 'middle', rot: -90, dy: '0.35em' });
  [['#47A3D2', lSeries[0], 1383.3], ['#C36BD3', lSeries[1], 1401.7]].forEach(d => {
    L(g, 718, d[2], 731, d[2], d[0], 2);
    T(g, 740, d[2], d[1], { ff: SERIF, fs: 16, dy: '0.35em', fill: '#222', sx: 0.9 });
  });
  T(g, 518.6, 1658, lHR, { ff: SERIF, fs: 17, fill: '#222', sx: 0.88 });
  const t = T(g, 518.6, 1675.5, "", { ff: SERIF, fs: 17, fill: '#222', sx: 0.88 });
  t.append('tspan').attr('font-style', 'italic').text('P');
  t.append('tspan').text(' = ' + lP);
}

// ---------- Panel N ----------
{
  const g = svg.append('g');
  const y = d3.scaleLinear().domain([0.16, 1.022]).range([2075, 1766.7]);
  const x = d3.scaleLinear().domain([-196, 9106]).range([98.5, 387.8]);
  [0.3, 0.5, 0.7, 0.9].forEach(v => L(g, 98.5, y(v), 387.8, y(v), '#EDEDED', 1.3));
  [1000, 3000, 5000, 7000, 9000].forEach(v => L(g, x(v), 1766.7, x(v), 2075, '#EDEDED', 1.3));
  nYTicks.forEach(v => L(g, 98.5, y(v), 387.8, y(v), '#E6E6E6', 2.6));
  nXTicks.forEach(v => L(g, x(v), 1766.7, x(v), 2075, '#E6E6E6', 2.6));
  drawKM(g, x, y, [
    { curve: nLowCurve, band: nLowBand, censor: nLowCensor, col: '#3DB489', bandCol: '#A3E2C6', bandOp: 0.4, lw: 1.6, cs: 4.5, cw: 1.1 },
    { curve: nHighCurve, band: nHighBand, censor: nHighCensor, col: '#E2282D', bandCol: '#F2A3A3', bandOp: 0.4, lw: 1.6, cs: 4.5, cw: 1.1 }
  ]);
  frame(g, 98.5, 387.8, 1766.7, 2075, 1.8);
  axisL(g, y, 98.5, { ticks: nYTicks, fmt: d3.format('.1f'), ts: 5, tp: 5, lw: 1.6, ff: SERIF, fs: 21, tc: '#222', sx: NX });
  axisB(g, x, 2075, { ticks: nXTicks, ts: 5, tp: 6, lw: 1.6, ff: SERIF, fs: 21, tc: '#222', sx: NX });
  T(g, 243, 2119, "Time", { ff: SERIF, fs: 23, a: 'middle', sx: NX });
  T(g, 48.5, 1920, "Survival probability", { ff: SERIF, fs: 23, a: 'middle', rot: -90, dy: '0.35em', sx: NX });
  [['#3DB489', nSeries[0], 1786.7], ['#E2282D', nSeries[1], 1804.3]].forEach(d => {
    L(g, 331.6, d[2], 346, d[2], d[0], 2);
    T(g, 355.6, d[2], d[1], { ff: SERIF, fs: 20, dy: '0.3em', fill: '#222', sx: NX });
  });
  T(g, 103.6, 2046, nHR, { ff: SERIF, fs: 21, fill: '#222', sx: NX });
  const t = T(g, 103.6, 2065, "", { ff: SERIF, fs: 21, fill: '#222', sx: NX });
  t.append('tspan').attr('font-style', 'italic').text('P');
  t.append('tspan').text(' = ' + nP);
}

// ---------- Panel M ----------
{
  const g = svg.append('g');
  const teal = '#1DB3B3', salmon = '#E9716A', blue = '#3F68B0';
  const subCols = ['#A6CEE3', '#5EB14B', '#E8482F', '#C9B1D6'];
  g.append('rect').attr('x', 860).attr('y', 1353).attr('width', 742).attr('height', 389).attr('fill', '#F6F6F6');
  const xl = 874.6, xr = 1592.3, ay = 1371.7, tcx = 1231;
  const t = T(g, tcx, ay, mTitle, { ff: SANS, fs: 26, fw: 'bold', a: 'middle', dy: '0.35em', fill: '#111', sx: 0.84 });
  const tw = t.node().getComputedTextLength() * 0.84;
  L(g, xl + 1, ay, tcx - tw / 2 - 1, ay, '#111', 2.6);
  L(g, tcx + tw / 2 + 1, ay, xr - 1, ay, '#111', 2.6);
  g.append('path').attr('d', `M${xl + 13},${ay - 9}L${xl + 1},${ay}L${xl + 13},${ay + 9}`).attr('fill', 'none').attr('stroke', '#111').attr('stroke-width', 2.6);
  g.append('path').attr('d', `M${xr - 13},${ay - 9}L${xr - 1},${ay}L${xr - 13},${ay + 9}`).attr('fill', 'none').attr('stroke', '#111').attr('stroke-width', 2.6);
  const xs = d3.scaleLinear().domain([0, d3.sum(mSubtypeN)]).range([xl, xr]);
  let cum = 0;
  mSubtypes.forEach((s, i) => {
    const a = xs(cum), b = xs(cum + mSubtypeN[i]);
    g.append('rect').attr('x', a).attr('y', 1396.7).attr('width', b - a).attr('height', 34.3).attr('fill', subCols[i]);
    T(g, (a + b) / 2, 1413.8, s, { ff: SANS, fs: 21, a: 'middle', dy: '0.35em', fill: '#fff', sx: NX });
    cum += mSubtypeN[i];
  });
  g.append('rect').attr('x', xl).attr('y', 1396.7).attr('width', xr - xl).attr('height', 34.3).attr('fill', 'none').attr('stroke', '#666').attr('stroke-width', 2);
  cum = 0;
  mSubtypes.forEach((s, i) => {
    [[mLowN[i], teal], [mHighN[i], salmon]].forEach(d => {
      const a = xs(cum), b = xs(cum + d[0]);
      g.append('rect').attr('x', a).attr('y', 1439.3).attr('width', b - a).attr('height', 34).attr('fill', d[1]);
      cum += d[0];
    });
  });
  g.append('rect').attr('x', xl).attr('y', 1439.3).attr('width', xr - xl).attr('height', 34).attr('fill', 'none').attr('stroke', '#666').attr('stroke-width', 2);
  // table
  const cols = [[1030.6, 1136], [1143.4, 1249.8], [1257.2, 1363.6], [1370.6, 1477], [1484.4, 1590.8]];
  const tb = g.append('g');
  const o = (extra) => Object.assign({ ff: SANS, fs: 20, a: 'middle', dy: '0.35em', sx: NX }, extra);
  tb.append('rect').attr('x', xl).attr('y', 1482.3).attr('width', xr - xl).attr('height', 226).attr('fill', '#fff');
  tb.append('rect').attr('x', xl).attr('y', 1482.3).attr('width', 1023 - xl).attr('height', 96).attr('fill', blue);
  T(tb, 949, 1520, "Risk", o({ fs: 22, fw: 'bold', fill: '#fff' }));
  T(tb, 949, 1541.7, "Groups", o({ fs: 22, fw: 'bold', fill: '#fff' }));
  tb.append('rect').attr('x', 1030.6).attr('y', 1482.3).attr('width', xr - 1030.6).attr('height', 36).attr('fill', blue);
  T(tb, 1310, 1499.3, `subtype group (n=${d3.sum(mSubtypeN)})`, o({ fs: 21, fw: 'bold', fill: '#fff' }));
  mSubtypes.forEach((s, i) => {
    const c = cols[i], cx = (c[0] + c[1]) / 2;
    tb.append('rect').attr('x', c[0]).attr('y', 1524).attr('width', c[1] - c[0]).attr('height', 55).attr('fill', subCols[i]);
    T(tb, cx, 1542.7, s, o({ fill: '#F4F4F4' }));
    T(tb, cx, 1562.7, `(n=${mSubtypeN[i]}, ${mSubtypePct[i]}%)`, o({ fill: '#F4F4F4' }));
    tb.append('rect').attr('x', c[0]).attr('y', 1586).attr('width', c[1] - c[0]).attr('height', 59).attr('fill', '#E3E3E3');
    T(tb, cx, 1615.5, `${mLowN[i]}(${mLowPct[i]}%)`, o({ fill: '#222' }));
    tb.append('rect').attr('x', c[0]).attr('y', 1649.3).attr('width', c[1] - c[0]).attr('height', 59).attr('fill', '#B3B3B3');
    T(tb, cx, 1678.8, `${mHighN[i]}(${mHighPct[i]}%)`, o({ fill: '#222' }));
  });
  const pc = cols[4], pcx = (pc[0] + pc[1]) / 2;
  tb.append('rect').attr('x', pc[0]).attr('y', 1524).attr('width', pc[1] - pc[0]).attr('height', 55).attr('fill', '#A9A9A9');
  T(tb, pcx, 1551.5, "P\u2212value", o({ it: true, fill: '#111' }));
  tb.append('rect').attr('x', pc[0]).attr('y', 1586).attr('width', pc[1] - pc[0]).attr('height', 122.3).attr('fill', '#ABABAB');
  T(tb, pcx, 1647.3, mPvalue, o({ fill: '#111' }));
  tb.append('rect').attr('x', xl).attr('y', 1586).attr('width', 1023 - xl).attr('height', 59).attr('fill', teal);
  T(tb, 949, 1605.7, "Low Risk", o({ fs: 22, fw: 'bold', fill: '#fff' }));
  T(tb, 949, 1626.7, `(n=${mRiskTotals[0]})`, o({ fs: 22, fw: 'bold', fill: '#fff' }));
  tb.append('rect').attr('x', xl).attr('y', 1649.3).attr('width', 1023 - xl).attr('height', 59).attr('fill', salmon);
  T(tb, 949, 1668.5, "High Risk", o({ fs: 22, fw: 'bold', fill: '#fff' }));
  T(tb, 949, 1690, `(n=${mRiskTotals[1]})`, o({ fs: 22, fw: 'bold', fill: '#fff' }));
  tb.append('rect').attr('x', xl).attr('y', 1482.3).attr('width', xr - xl).attr('height', 226).attr('fill', 'none').attr('stroke', '#777').attr('stroke-width', 1.6);
  // legend
  g.append('rect').attr('x', 1123).attr('y', 1720.5).attr('width', 9).attr('height', 9).attr('fill', teal);
  T(g, 1144, 1725, "Low Risk", { ff: SANS, fs: 22, dy: '0.35em', fill: '#111', sx: NX });
  g.append('rect').attr('x', 1242).attr('y', 1720.5).attr('width', 9).attr('height', 9).attr('fill', salmon);
  T(g, 1263, 1725, "High Risk", { ff: SANS, fs: 22, dy: '0.35em', fill: '#111', sx: NX });
}
</script>
</body>
</html>
